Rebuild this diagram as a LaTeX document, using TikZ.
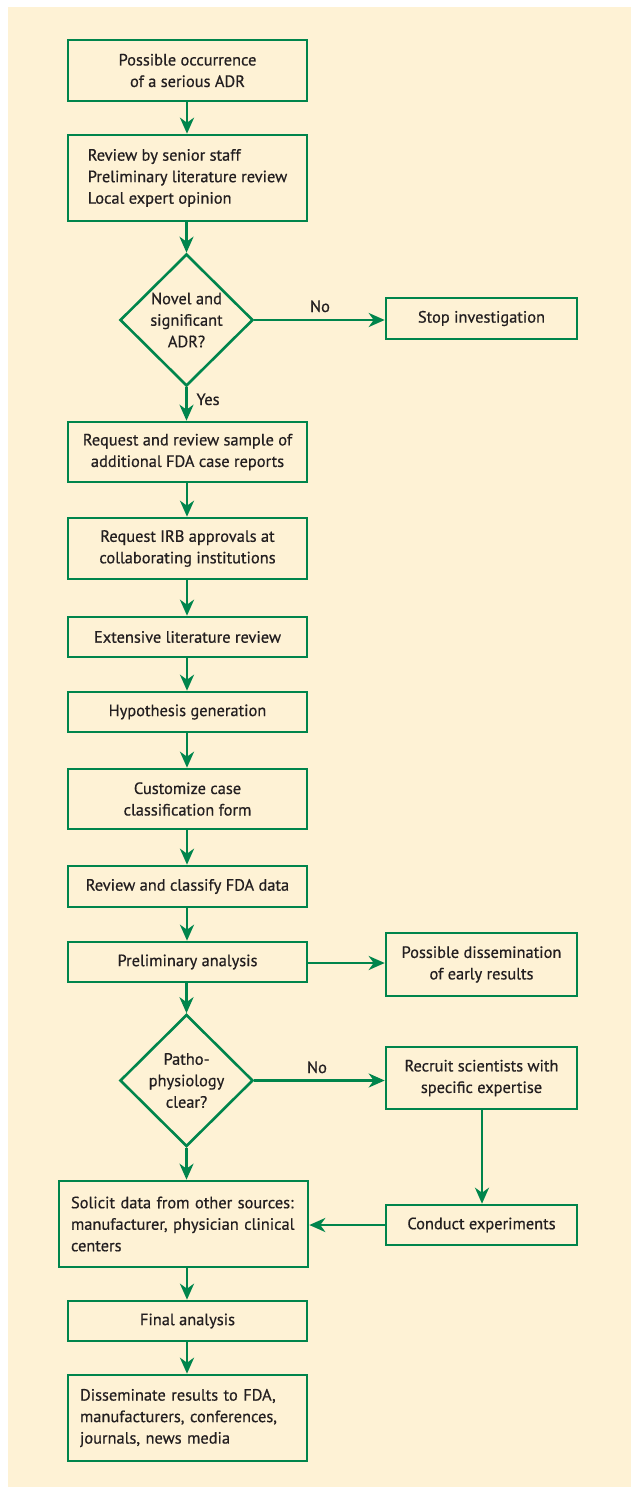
\documentclass[tikz,border=0pt]{standalone}
\usepackage{fontspec}
\setmainfont[FakeBold=0.6]{PT Sans}
\usetikzlibrary{arrows.meta,shapes.geometric}
\definecolor{bgy}{RGB}{254,242,213}
\definecolor{grn}{RGB}{0,133,76}
\definecolor{txt}{RGB}{35,31,32}
\begin{document}
\begin{tikzpicture}[x=1pt,y=-1pt,
  every node/.style={font=\fontsize{16.4}{21.5}\selectfont, text=txt},
  box/.style={draw=grn, line width=2.6pt, rectangle, inner sep=0pt, align=center, minimum width=239pt},
  lbox/.style={draw=grn, line width=2.6pt, rectangle, inner xsep=12pt, inner ysep=0pt, align=left},
  dec/.style={draw=grn, line width=2.6pt, diamond, inner sep=0pt, align=center, minimum width=133pt, minimum height=132pt},
  arr/.style={draw=grn, line width=2.6pt, -{Stealth[length=16pt,width=14pt,inset=5pt]}},
  lbl/.style={font=\fontsize{16.4}{18}\selectfont}
]
\fill[bgy] (8,7) rectangle (631,1487);
\useasboundingbox (0,0) rectangle (631,1488);

\node[box, minimum height=61pt] (b1) at (187.5,70.5) {Possible occurrence\\of a serious ADR};
\node[box, minimum height=86pt, align=left] (b2) at (187.5,178) {Review by senior staff\\Preliminary literature review\\Local expert opinion};
\node[dec] (d1) at (186.5,320) {Novel and\\significant\\ADR?};
\node[box, minimum width=191pt, minimum height=41pt] (stop) at (481.5,318.5) {Stop investigation};
\node[box, minimum height=60pt] (b3) at (187.5,452) {Request and review sample of\\additional FDA case reports};
\node[box, minimum height=61pt] (b4) at (187.5,548.5) {Request IRB approvals at\\collaborating institutions};
\node[box, minimum height=40pt] (b5) at (187.5,637) {Extensive literature review};
\node[box, minimum height=40pt] (b6) at (187.5,712) {Hypothesis generation};
\node[box, minimum height=60pt] (b7) at (187.5,799) {Customize case\\classification form};
\node[box, minimum height=41pt] (b8) at (187.5,886.5) {Review and classify FDA data};
\node[box, minimum height=40pt] (b9) at (187.5,962) {Preliminary analysis};
\node[box, minimum width=191pt, minimum height=63pt] (pd) at (481.5,964.5) {Possible dissemination\\of early results};
\node[dec] (d2) at (186.5,1080.5) {Patho-\\physiology\\clear?};
\node[box, minimum width=191pt, minimum height=62pt] (rs) at (481.5,1078) {Recruit scientists with\\specific expertise};
\node[box, minimum width=191pt, minimum height=40pt] (ce) at (481.5,1225) {Conduct experiments};
\node[lbox, text width=225pt, minimum height=86pt] (so) at (183.5,1224) {Solicit data from other sources:\\manufacturer, physician clinical\\centers};
\node[box, minimum height=40pt] (fa) at (187.5,1321) {Final analysis};
\node[lbox, text width=215pt, minimum height=86pt] (ds) at (187.5,1418) {Disseminate results to FDA,\\manufacturers, conferences,\\journals, news media};

\draw[arr] (b1.south -| 187,0) -- (b2.north -| 187,0);
\draw[arr] (b2.south -| 186.5,0) -- (d1.north);
\draw[arr] (d1.east) -- (stop.west |- d1.east);
\draw[arr] (d1.south) -- (b3.north -| d1.south);
\draw[arr] (b3.south -| 187,0) -- (b4.north -| 187,0);
\draw[arr] (b4.south -| 187,0) -- (b5.north -| 187,0);
\draw[arr] (b5.south -| 187,0) -- (b6.north -| 187,0);
\draw[arr] (b6.south -| 187,0) -- (b7.north -| 187,0);
\draw[arr] (b7.south -| 187,0) -- (b8.north -| 187,0);
\draw[arr] (b8.south -| 187,0) -- (b9.north -| 187,0);
\draw[arr] (b9.east |- 0,963) -- (pd.west |- 0,963);
\draw[arr] (b9.south -| 186.5,0) -- (d2.north);
\draw[arr] (d2.east) -- (rs.west |- d2.east);
\draw[arr] (rs.south -| 482,0) -- (ce.north -| 482,0);
\draw[arr] (d2.south) -- (so.north -| d2.south);
\draw[arr] (ce.west) -- (so.east |- ce.west);
\draw[arr] (so.south -| 187,0) -- (fa.north -| 187,0);
\draw[arr] (fa.south -| 187,0) -- (ds.north -| 187,0);

\node[lbl, anchor=base] (no1) at (320,312) {No};
\node[lbl, anchor=base west] (yes) at (193,405) {Yes};
\node[lbl, anchor=base] (no2) at (317,1073) {No};
\end{tikzpicture}
\end{document}
